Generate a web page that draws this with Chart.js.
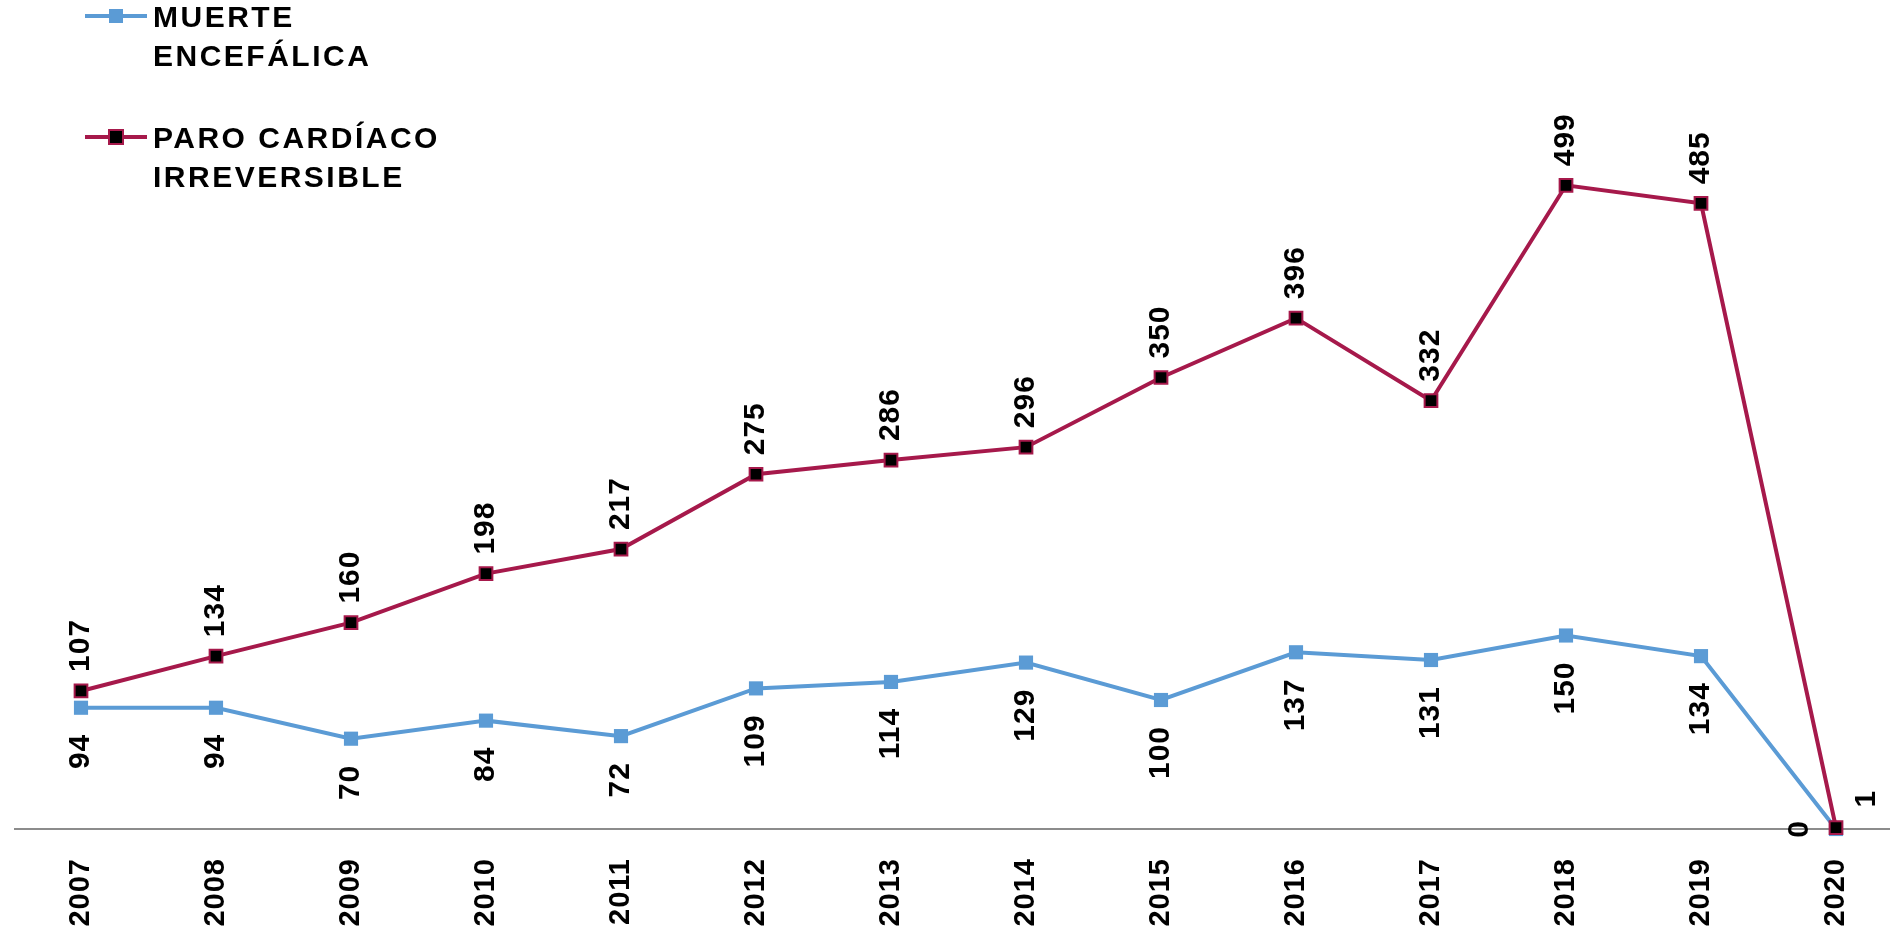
<!DOCTYPE html>
<html>
<head>
<meta charset="utf-8">
<script src="https://cdn.jsdelivr.net/npm/chart.js@4.4.1/dist/chart.umd.min.js"></script>
<style>
  html, body { margin: 0; padding: 0; background: #fff; }
</style>
</head>
<body>
<canvas id="grafica" width="1890" height="930"></canvas>
<script>
// Donaciones por tipo de pérdida de la vida, 2007-2020
const anios = ['2007', '2008', '2009', '2010', '2011', '2012', '2013', '2014', '2015', '2016', '2017', '2018', '2019', '2020'];
const muerteEncefalica = [94, 94, 70, 84, 72, 109, 114, 129, 100, 137, 131, 150, 134, 0];
const paroCardiaco = [107, 134, 160, 198, 217, 275, 286, 296, 350, 396, 332, 499, 485, 1];
const etiquetaMuerte = ['MUERTE', 'ENCEFÁLICA'];
const etiquetaParo = ['PARO CARDÍACO', 'IRREVERSIBLE'];

const FUENTE = "'Liberation Sans', Arial, sans-serif";

// espaciado de letras para todo el lienzo
const espaciado = {
    id: 'espaciado',
    beforeDraw(chart) {
        chart.ctx.letterSpacing = '1px';
    }
};

// linea del cero que cruza todo el ancho
const lineaCero = {
    id: 'lineaCero',
    beforeDatasetsDraw(chart) {
        const ctx = chart.ctx;
        const y = chart.scales.y.getPixelForValue(0);
        ctx.save();
        ctx.strokeStyle = '#8c8c8c';
        ctx.lineWidth = 2;
        ctx.beginPath();
        ctx.moveTo(14, y);
        ctx.lineTo(chart.width, y);
        ctx.stroke();
        ctx.restore();
    }
};

// valores rotados junto a cada punto
const etiquetasValor = {
    id: 'etiquetasValor',
    afterDatasetsDraw(chart) {
        const ctx = chart.ctx;
        ctx.save();
        ctx.font = 'bold 30px ' + FUENTE;
        ctx.fillStyle = '#000';
        ctx.letterSpacing = '1px';
        chart.data.datasets.forEach((ds, di) => {
            const meta = chart.getDatasetMeta(di);
            meta.data.forEach((pt, i) => {
                const lado = (i === ds.data.length - 1) ? ds.ladoFinal : ds.lado;
                let x = pt.x, y = pt.y, align;
                if (lado === 'arriba') { y -= 19; align = 'left'; }
                else if (lado === 'abajo') { y += 26; align = 'right'; }
                else if (lado === 'izquierda') { x -= 36; align = 'center'; }
                else { x += 31; y -= 29; align = 'center'; }
                ctx.save();
                ctx.translate(x, y);
                ctx.rotate(-Math.PI / 2);
                ctx.textAlign = align;
                ctx.textBaseline = 'middle';
                ctx.fillText(String(ds.data[i]), 0, 0);
                ctx.restore();
            });
        });
        ctx.restore();
    }
};

// leyenda en la esquina superior izquierda, texto en dos renglones
const leyenda = {
    id: 'leyenda',
    afterDraw(chart) {
        const ctx = chart.ctx;
        const filas = [16, 137];
        ctx.save();
        chart.data.datasets.forEach((ds, i) => {
            const y = filas[i];
            ctx.strokeStyle = ds.borderColor;
            ctx.lineWidth = 4;
            ctx.beginPath();
            ctx.moveTo(85, y);
            ctx.lineTo(147, y);
            ctx.stroke();
            ctx.fillStyle = ds.pointBackgroundColor;
            ctx.fillRect(109, y - 7, 14, 14);
            if (ds.pointBorderWidth) {
                ctx.strokeStyle = ds.pointBorderColor;
                ctx.lineWidth = ds.pointBorderWidth;
                ctx.strokeRect(109, y - 7, 14, 14);
            }
            ctx.fillStyle = '#000';
            ctx.font = 'bold 30px ' + FUENTE;
            ctx.letterSpacing = '2.5px';
            ctx.textAlign = 'left';
            ctx.textBaseline = 'alphabetic';
            ds.label.forEach((linea, k) => {
                ctx.fillText(linea, 153, y + 11 + k * 39);
            });
        });
        ctx.restore();
    }
};

new Chart(document.getElementById('grafica').getContext('2d'), {
    type: 'line',
    data: {
        labels: anios,
        datasets: [{
            label: etiquetaMuerte,
            data: muerteEncefalica,
            borderColor: '#5B9BD5',
            backgroundColor: '#5B9BD5',
            borderWidth: 4,
            pointStyle: 'rect',
            pointRadius: 10,
            pointBackgroundColor: '#5B9BD5',
            pointBorderColor: '#5B9BD5',
            pointBorderWidth: 0,
            tension: 0,
            clip: false,
            order: 2,
            lado: 'abajo',
            ladoFinal: 'izquierda'
        },
        {
            label: etiquetaParo,
            data: paroCardiaco,
            borderColor: '#A6194B',
            backgroundColor: '#000',
            borderWidth: 4,
            pointStyle: 'rect',
            pointRadius: 9,
            pointBackgroundColor: '#000',
            pointBorderColor: '#A6194B',
            pointBorderWidth: 2,
            tension: 0,
            clip: false,
            order: 1,
            lado: 'arriba',
            ladoFinal: 'derecha'
        }]
    },
    options: {
        responsive: false,
        animation: false,
        layout: {
            padding: { top: 55, left: 81, right: 54, bottom: 0 }
        },
        plugins: {
            legend: { display: false },
            tooltip: { enabled: false }
        },
        scales: {
            x: {
                offset: false,
                grid: { display: false, drawTicks: false },
                border: { display: false },
                ticks: {
                    autoSkip: false,
                    minRotation: 90,
                    maxRotation: 90,
                    padding: 29,
                    color: '#000',
                    font: { family: FUENTE, size: 29, weight: 'bold' }
                },
                afterFit(scale) {
                    scale.height = 101;
                    scale.paddingLeft = 0;
                    scale.paddingRight = 0;
                }
            },
            y: {
                display: false,
                min: 0,
                max: 600
            }
        }
    },
    plugins: [espaciado, lineaCero, etiquetasValor, leyenda]
});
</script>
</body>
</html>
